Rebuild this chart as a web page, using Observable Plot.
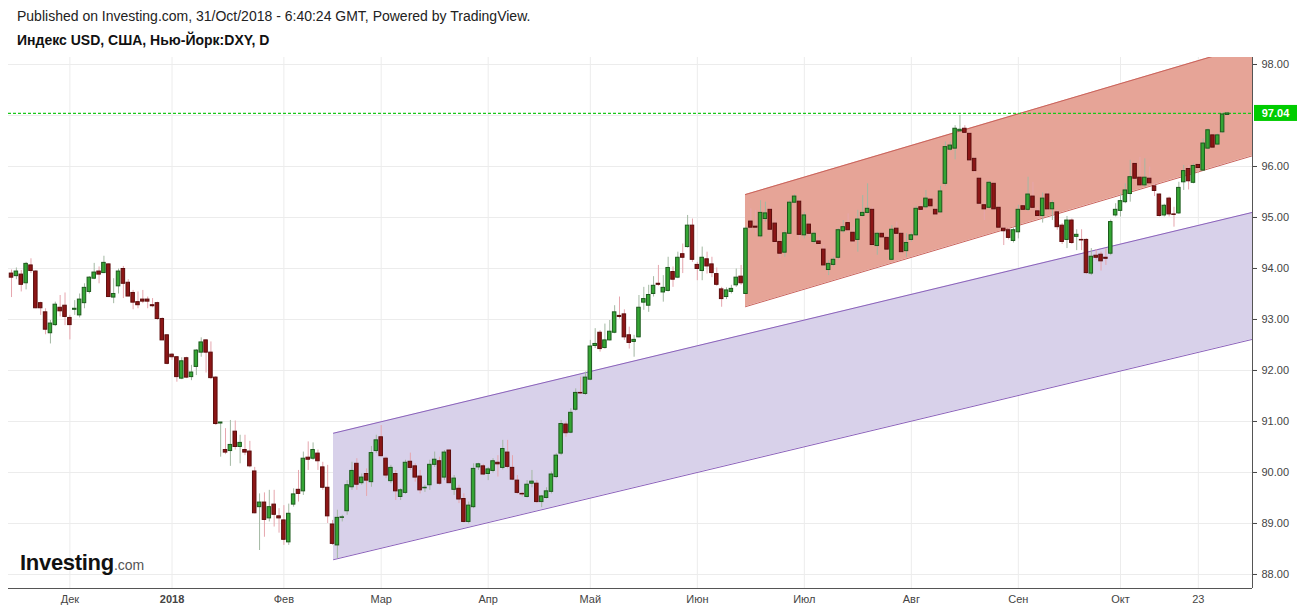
<!DOCTYPE html>
<html>
<head>
<meta charset="utf-8">
<script src="https://cdn.jsdelivr.net/npm/d3@7"></script>
<script src="https://cdn.jsdelivr.net/npm/@observablehq/plot@0.6"></script>
<style>
  body { margin: 0; background: #fff; font-family: "Liberation Sans", Arial, sans-serif; }
  #wrap { position: relative; width: 1299px; height: 612px; overflow: hidden; background: #fff; }
  #pub { position: absolute; left: 17px; top: 8px; font-size: 14px; color: #222; white-space: nowrap; }
  #ttl { position: absolute; left: 17px; top: 32px; font-size: 14px; font-weight: bold; color: #111; white-space: nowrap; }
  #chart { position: absolute; left: 0; top: 50px; }
  #logo { position: absolute; left: 20px; top: 550px; white-space: nowrap; color: #111; }
  #logo .a { font-size: 22px; font-weight: bold; letter-spacing: -0.3px; }
  #logo .b { font-size: 14px; color: #555; }
</style>
</head>
<body>
<div id="wrap">
  <div id="pub">Published on Investing.com, 31/Oct/2018 - 6:40:24 GMT, Powered by TradingView.</div>
  <div id="ttl">Индекс USD, США, Нью-Йорк:DXY, D</div>
  <div id="chart"></div>
  <div id="logo"><span class="a">Investing</span><span class="b">.com</span></div>
</div>
<script>
// Daily OHLC, one value per bar (bar index = position in the arrays)
const opens = [93.90,93.85,93.88,93.71,94.06,93.94,93.32,93.14,92.73,92.89,93.23,93.27,93.03,93.19,93.08,93.32,93.54,93.80,93.94,93.91,
94.08,93.43,93.65,93.99,93.72,93.52,93.34,93.39,93.39,93.28,93.32,93.01,92.69,92.31,92.26,91.84,92.24,91.87,92.07,92.35,
92.59,92.35,91.86,90.96,90.44,90.42,90.80,90.50,90.44,90.41,90.02,89.32,89.41,89.10,89.37,89.14,89.06,88.63,89.37,89.66,
89.63,90.29,90.27,90.37,90.10,89.70,88.98,88.57,89.11,89.24,89.71,90.17,89.79,89.97,89.81,90.42,90.69,90.27,89.83,89.97,
89.52,89.60,90.21,90.12,89.92,89.69,89.75,90.15,90.22,89.90,90.43,89.66,89.68,89.48,89.03,89.32,90.10,90.12,89.97,90.03,
90.19,90.09,90.39,90.09,89.84,89.58,89.52,89.78,89.78,89.42,89.50,89.62,89.91,90.37,90.94,90.78,91.23,91.56,91.54,91.82,
92.48,92.74,92.44,92.59,92.74,93.07,93.10,92.69,92.56,92.65,93.33,93.27,93.50,93.70,93.53,93.56,93.93,93.82,94.28,94.42,
94.84,94.07,93.95,94.18,94.08,93.89,93.59,93.44,93.54,93.67,93.84,93.50,94.92,94.82,94.63,94.97,95.15,94.88,94.52,94.31,
94.68,95.29,95.31,94.65,94.86,94.52,94.53,94.37,93.97,94.07,94.21,94.73,94.89,94.70,94.56,95.03,95.09,95.15,94.44,94.68,
94.60,94.17,94.78,94.68,94.34,94.56,94.65,95.20,95.20,95.35,95.15,95.10,95.66,96.33,96.35,96.69,96.74,96.64,96.15,95.76,
95.24,95.19,95.66,95.19,94.78,94.75,94.54,94.71,95.22,95.15,95.41,95.12,95.03,95.45,95.16,95.10,94.84,94.56,94.94,94.62,
94.56,94.56,93.90,94.25,94.27,94.21,94.29,95.04,95.13,95.30,95.46,96.05,95.78,95.63,95.76,95.61,95.45,95.04,95.37,95.06,
95.08,95.69,95.95,95.68,96.03,95.92,96.35,96.61,96.43,96.67,97.01];
const highs = [93.97,94.01,93.96,94.12,94.19,93.96,93.34,93.21,92.98,93.34,93.47,93.52,93.08,93.37,93.50,93.70,93.84,94.10,94.03,94.24,
94.09,93.80,93.99,94.04,93.78,93.57,93.54,93.57,93.44,93.41,93.34,93.03,92.69,92.33,92.27,92.25,92.26,92.10,92.41,92.64,
92.60,92.56,91.88,90.98,90.86,91.02,91.01,90.73,90.73,90.61,90.10,89.58,89.60,89.65,89.65,89.29,89.35,89.38,89.68,90.04,
90.40,90.60,90.58,90.44,90.20,90.14,89.06,89.26,89.16,89.84,90.20,90.27,89.97,90.07,90.51,90.73,90.92,90.30,90.14,90.04,
89.68,90.24,90.38,90.17,90.04,89.75,90.24,90.40,90.30,90.43,90.44,89.94,89.75,89.58,89.42,90.17,90.18,90.16,90.10,90.27,
90.33,90.63,90.63,90.33,89.94,89.61,89.84,90.04,89.84,89.55,89.70,90.01,90.37,91.02,90.99,91.25,91.64,91.87,91.97,92.59,
92.82,92.78,92.91,92.98,93.27,93.44,93.19,92.85,92.69,93.47,93.63,93.67,93.84,94.06,93.86,94.22,94.03,94.32,94.48,95.04,
94.97,94.12,94.42,94.32,94.22,94.01,93.63,93.62,93.67,93.99,94.06,94.81,95.17,95.14,95.33,95.30,95.20,94.97,94.55,94.74,
95.33,95.45,95.35,95.10,94.94,94.71,94.61,94.45,94.16,94.22,94.78,94.94,95.07,94.81,95.14,95.43,95.66,95.20,94.71,94.71,
94.68,94.84,94.91,94.71,94.68,94.69,95.22,95.27,95.53,95.40,95.20,95.61,96.48,96.48,96.80,97.00,96.80,96.68,96.18,95.79,
95.30,95.71,95.69,95.30,94.82,94.78,94.80,95.24,95.27,95.79,95.69,95.19,95.48,95.50,95.33,95.14,94.88,95.02,94.97,94.76,
94.76,94.58,94.39,94.37,94.32,94.39,94.95,95.27,95.46,95.66,96.12,96.09,96.18,96.15,95.99,95.66,95.46,95.26,95.40,95.20,
95.69,96.02,96.02,96.05,96.05,96.54,96.74,96.64,96.64,97.05,97.06];
const lows = [93.43,93.78,93.54,93.58,93.90,93.21,93.08,92.70,92.52,92.86,93.05,92.88,92.60,93.08,93.03,93.21,93.50,93.78,93.70,93.90,
93.43,93.31,93.50,93.41,93.45,93.19,93.21,93.31,93.21,93.23,92.98,92.59,92.11,92.20,91.77,91.82,91.84,91.80,91.90,92.26,
91.95,91.82,90.92,90.30,90.35,90.12,90.44,90.17,90.33,90.09,89.19,88.47,88.73,89.03,88.93,88.81,88.57,88.57,89.32,89.42,
89.55,90.04,90.24,90.04,89.65,89.00,88.57,88.31,89.03,89.16,89.65,89.65,89.75,89.53,89.71,90.37,90.30,89.88,89.78,89.45,
89.45,89.57,90.04,89.81,89.58,89.61,89.65,90.10,89.75,89.84,89.78,89.55,89.39,89.01,88.99,89.29,90.04,89.94,89.84,89.99,
89.91,90.05,90.07,89.84,89.57,89.52,89.50,89.70,89.39,89.31,89.48,89.58,89.88,90.33,90.69,90.76,91.20,91.53,91.51,91.80,
92.43,92.36,92.42,92.58,92.72,93.01,92.59,92.42,92.26,92.64,93.18,93.14,93.44,93.65,93.34,93.54,93.63,93.80,93.90,94.40,
94.12,93.76,93.76,93.89,93.82,93.65,93.24,93.39,93.50,93.63,93.67,93.49,94.74,94.68,94.60,94.91,94.73,94.48,94.19,94.22,
94.67,95.27,94.55,94.58,94.61,94.48,94.45,94.01,93.86,94.03,94.17,94.69,94.71,94.48,94.32,95.01,95.07,94.44,94.26,94.58,
94.34,94.16,94.61,94.29,94.22,94.52,94.63,95.10,95.17,95.20,95.04,95.09,95.61,96.30,96.13,96.67,96.61,96.08,95.86,95.24,
94.94,95.17,95.14,94.78,94.45,94.56,94.50,94.58,95.14,95.12,95.15,94.97,94.89,95.12,94.94,94.75,94.47,94.39,94.47,94.35,
94.35,93.88,93.86,94.16,93.95,94.06,94.25,95.01,95.01,95.27,95.30,95.73,95.61,95.59,95.66,95.41,95.01,95.01,95.01,94.81,
95.06,95.53,95.54,95.66,95.86,95.91,96.33,96.35,96.41,96.65,97.00];
const closes = [93.82,93.94,93.68,94.09,93.95,93.22,93.22,92.80,92.92,93.29,93.16,93.05,92.89,93.21,93.39,93.62,93.82,93.92,93.88,94.11,
93.44,93.50,93.94,93.70,93.45,93.33,93.28,93.35,93.35,93.26,93.01,92.59,92.13,92.26,91.87,92.18,91.86,91.96,92.39,92.55,
92.35,91.85,90.95,90.98,90.39,90.54,90.50,90.58,90.39,90.12,89.20,89.41,89.07,89.32,89.17,89.10,88.68,89.19,89.57,89.58,
90.27,90.25,90.44,90.22,89.70,89.14,88.60,89.11,89.12,89.75,90.03,89.76,89.90,89.84,90.38,90.63,90.32,89.94,90.09,89.63,
89.65,90.19,90.09,89.90,89.65,89.70,90.15,90.25,89.78,90.39,89.79,89.88,89.47,89.03,89.35,90.07,90.16,89.96,90.06,90.22,
90.16,90.46,90.11,89.86,89.60,89.57,89.76,89.82,89.42,89.53,89.63,89.96,90.33,90.95,90.77,91.17,91.56,91.55,91.86,92.47,
92.52,92.42,92.59,92.76,93.14,93.05,92.65,92.54,92.60,93.23,93.40,93.48,93.66,93.68,93.62,94.01,93.78,94.21,94.21,94.84,
94.17,93.99,94.21,94.04,93.91,93.68,93.40,93.57,93.60,93.82,93.71,94.78,94.80,94.80,95.09,95.08,94.76,94.52,94.29,94.69,
95.29,95.41,94.66,95.04,94.68,94.68,94.48,94.06,94.09,94.17,94.75,94.81,94.75,94.53,94.96,95.09,95.17,94.46,94.68,94.61,
94.37,94.76,94.68,94.32,94.50,94.65,95.17,95.15,95.37,95.22,95.06,95.51,96.38,96.41,96.74,96.72,96.66,96.12,95.91,95.27,
95.16,95.68,95.16,94.80,94.73,94.60,94.75,95.15,95.15,95.45,95.19,95.03,95.37,95.16,95.28,94.81,94.52,94.94,94.50,94.66,
94.55,93.91,94.23,94.21,94.14,94.19,94.91,95.15,95.32,95.53,95.79,95.76,95.63,95.78,95.67,95.52,95.03,95.23,95.06,95.05,
95.58,95.91,95.71,96.01,95.97,96.45,96.71,96.37,96.61,97.02,97.04];

// Axis ticks (97.00 sits under the last-price badge, so it has a grid line but no label)
const yGrid = [88, 89, 90, 91, 92, 93, 94, 95, 96, 97, 98];
const yTicks = [88, 89, 90, 91, 92, 93, 94, 95, 96, 98];
const xTickBars = [12, 33, 56, 76, 98, 119, 141, 163, 185, 207, 228, 244];
const xTickLabels = ["Дек", "2018", "Фев", "Мар", "Апр", "Май", "Июн", "Июл", "Авг", "Сен", "Окт", "23"];

// Trend channels (bar index, upper, lower)
const purpleBars = [66.2, 255.14];
const purpleUpper = [90.77, 95.10];
const purpleLower = [88.29, 92.61];
const redBars = [150.9, 255.14];
const redUpper = [95.45, 98.39];
const redLower = [93.25, 96.21];

const lastPrice = closes[closes.length - 1];

const bars = opens.map((o, i) => ({i, o, h: highs[i], l: lows[i], c: closes[i], up: closes[i] >= o}));
const purple = purpleBars.map((b, k) => ({b, hi: purpleUpper[k], lo: purpleLower[k]}));
const red = redBars.map((b, k) => ({b, hi: redUpper[k], lo: redLower[k]}));
const labelOf = new Map(xTickBars.map((b, k) => [b, xTickLabels[k]]));

const yMin = 87.725, yMax = 98.137;
const xMin = -0.62, xMax = 255.14;
const FONT = "'Liberation Sans', Arial, sans-serif";

const plot = Plot.plot({
  width: 1299,
  height: 562,
  marginLeft: 8,
  marginRight: 47,
  marginTop: 7,
  marginBottom: 24,
  x: {type: "linear", domain: [xMin, xMax], axis: null},
  y: {domain: [yMin, yMax], axis: null},
  style: {fontFamily: FONT, fontSize: "11px", background: "white", overflow: "visible"},
  marks: [
    Plot.gridY(yGrid, {stroke: "#ececec", strokeOpacity: 1}),
    Plot.gridX(xTickBars, {stroke: "#ececec", strokeOpacity: 1}),
    Plot.areaY(purple, {x: "b", y1: "lo", y2: "hi", fill: "#d8d1ea", fillOpacity: 1, clip: true}),
    Plot.line(purple, {x: "b", y: "hi", stroke: "#8b62bb", strokeWidth: 1, clip: true}),
    Plot.line(purple, {x: "b", y: "lo", stroke: "#8b62bb", strokeWidth: 1, clip: true}),
    Plot.areaY(red, {x: "b", y1: "lo", y2: "hi", fill: "#e6a497", fillOpacity: 1, clip: true}),
    Plot.line(red, {x: "b", y: "hi", stroke: "#c9625b", strokeWidth: 1, clip: true}),
    Plot.line(red, {x: "b", y: "lo", stroke: "#c9625b", strokeWidth: 1, clip: true}),
    Plot.ruleY([lastPrice], {stroke: "#19c819", strokeOpacity: 1, strokeDasharray: "3,2", strokeWidth: 1.3}),
    Plot.ruleX(bars, {x: "i", y1: "l", y2: "h", stroke: d => d.up ? "#a3b8a3" : "#e6a6ae", strokeWidth: 1}),
    Plot.rect(bars, {
      x1: d => d.i - 0.36, x2: d => d.i + 0.36,
      y1: d => Math.min(d.o, d.c), y2: d => Math.max(d.o, d.c),
      fill: d => d.up ? "#34a534" : "#8c1616",
      stroke: d => d.up ? "#1c5a1c" : "#5c0c0c",
      strokeWidth: 1
    }),
    Plot.ruleY([yMin], {stroke: "#555"}),
    Plot.ruleX([xMax], {stroke: "#555"}),
    Plot.axisY(yTicks, {anchor: "right", tickSize: 4, tickPadding: 5, tickFormat: d3.format(".2f"), color: "#444", fontSize: 11}),
    Plot.axisX(xTickBars, {anchor: "bottom", tickSize: 0, tickPadding: 7, tickFormat: d => labelOf.get(d), color: "#444", fontSize: 11})
  ]
});

document.getElementById("chart").appendChild(plot);

// bold year label
d3.select(plot).selectAll("text").filter(function() { return this.textContent === "2018"; })
  .attr("font-weight", "bold");

// last price badge on the right axis
const ys = plot.scale("y");
const yp = ys.apply(lastPrice);
const svg = d3.select(plot);
svg.append("rect").attr("x", 1254).attr("y", yp - 8).attr("width", 43).attr("height", 16).attr("fill", "#00cc00");
svg.append("text").attr("x", 1275.5).attr("y", yp + 4).attr("text-anchor", "middle").attr("fill", "white")
  .attr("font-weight", "bold").attr("font-size", 11).attr("font-family", FONT)
  .text(d3.format(".2f")(lastPrice));
</script>
</body>
</html>
